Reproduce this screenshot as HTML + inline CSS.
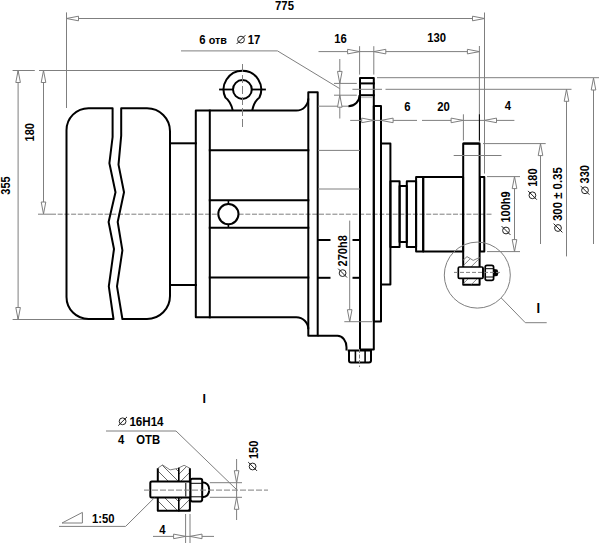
<!DOCTYPE html>
<html><head><meta charset="utf-8"><style>
html,body{margin:0;padding:0;background:#fff;}
svg{display:block;} path{stroke-linejoin:round;}
text{font-family:"Liberation Sans",sans-serif;fill:#000;}
</style></head><body>
<svg width="600" height="543" viewBox="0 0 600 543">
<line x1="66.5" y1="12.4" x2="66.5" y2="108" stroke="#7f7f7f" stroke-width="1" />
<line x1="484.5" y1="12.5" x2="484.5" y2="173.6" stroke="#7f7f7f" stroke-width="1" />
<line x1="66.5" y1="18.5" x2="484.5" y2="18.5" stroke="#7f7f7f" stroke-width="1" />
<polygon points="66.5,18.5 78.50,16.20 78.50,20.80" fill="#fff" stroke="#7f7f7f" stroke-width="1"/>
<polygon points="484.5,18.5 472.50,20.80 472.50,16.20" fill="#fff" stroke="#7f7f7f" stroke-width="1"/>
<text transform="translate(284.5 9.8) scale(1 1.08)" font-size="11.3" font-weight="bold" text-anchor="middle">775</text>
<line x1="12.6" y1="70.5" x2="34.8" y2="70.5" stroke="#7f7f7f" stroke-width="1" />
<line x1="39" y1="70.5" x2="238.5" y2="70.5" stroke="#7f7f7f" stroke-width="1" />
<line x1="18.1" y1="70.5" x2="18.1" y2="319.5" stroke="#7f7f7f" stroke-width="1" />
<polygon points="18.1,70.5 20.40,82.50 15.80,82.50" fill="#fff" stroke="#7f7f7f" stroke-width="1"/>
<polygon points="18.1,319.5 15.80,307.50 20.40,307.50" fill="#fff" stroke="#7f7f7f" stroke-width="1"/>
<line x1="43.5" y1="70.5" x2="43.5" y2="214" stroke="#7f7f7f" stroke-width="1" />
<polygon points="43.5,70.5 45.80,82.50 41.20,82.50" fill="#fff" stroke="#7f7f7f" stroke-width="1"/>
<polygon points="43.5,214 41.20,202.00 45.80,202.00" fill="#fff" stroke="#7f7f7f" stroke-width="1"/>
<line x1="12.6" y1="319.5" x2="88" y2="319.5" stroke="#7f7f7f" stroke-width="1" />
<text transform="translate(9.5 185.5) rotate(-90) scale(1 1.08)" font-size="11" font-weight="bold" text-anchor="middle">355</text>
<text transform="translate(34.3 132.3) rotate(-90) scale(1 1.08)" font-size="11" font-weight="bold" text-anchor="middle">180</text>
<line x1="38" y1="214.2" x2="51" y2="214.2" stroke="#7f7f7f" stroke-width="1" />
<line x1="51" y1="214.2" x2="491.5" y2="214.2" stroke="#7f7f7f" stroke-width="1" stroke-dasharray="5 1.7"/>
<path d="M112.6,108.2 L88.5,108.2 A22,22 0 0 0 66.5,130.2 L66.5,297 A22,22 0 0 0 88.5,319 L113.5,319 L108.8,286.3 L114,249 L108.6,222 L115.5,192.2 L109.4,163.2 L112.6,137 Z" stroke="#000" stroke-width="2" fill="none" />
<path d="M121.2,108.2 L147,108.2 A23,23 0 0 1 170,131.2 L170,296 A23,23 0 0 1 147,319 L122.4,319 L117,286.3 L122.4,250.4 L117.7,222 L124,192.2 L118.5,164.6 L121.2,135.6 Z" stroke="#000" stroke-width="2" fill="none" />
<line x1="170" y1="143.3" x2="195.8" y2="143.3" stroke="#000" stroke-width="2" stroke-linecap="square"/>
<line x1="170" y1="285" x2="195.8" y2="285" stroke="#000" stroke-width="2" stroke-linecap="square"/>
<path d="M308.3,98.6 A12,12 0 0 1 296.3,110.6 L195.8,110.6 L195.8,317.3 L296.3,317.3 A12,12 0 0 1 308.3,329.3" stroke="#000" stroke-width="2" fill="none" />
<line x1="209.8" y1="110.6" x2="209.8" y2="317.3" stroke="#000" stroke-width="2" stroke-linecap="square"/>
<line x1="209.8" y1="150.3" x2="308.3" y2="150.3" stroke="#000" stroke-width="2" stroke-linecap="square"/>
<line x1="209.8" y1="200.3" x2="308.3" y2="200.3" stroke="#000" stroke-width="2" stroke-linecap="square"/>
<line x1="209.8" y1="227.7" x2="308.3" y2="227.7" stroke="#000" stroke-width="2" stroke-linecap="square"/>
<line x1="209.8" y1="277.5" x2="308.3" y2="277.5" stroke="#000" stroke-width="2" stroke-linecap="square"/>
<circle cx="228.4" cy="214.1" r="10.1" fill="#fff" stroke="#000" stroke-width="2"/>
<line x1="228.4" y1="200.3" x2="228.4" y2="204" stroke="#000" stroke-width="1.6" />
<line x1="228.4" y1="224.2" x2="228.4" y2="227.7" stroke="#000" stroke-width="1.6" />
<path d="M232.8,110.6 Q230.8,101.5 225.39,97.5 A18.8,18.8 0 1 1 259.41,97.5 Q254,101.5 252.2,110.6" stroke="#000" stroke-width="2" fill="none" />
<circle cx="242.4" cy="89.5" r="9.4" fill="none" stroke="#000" stroke-width="2"/>
<line x1="220" y1="89.5" x2="233" y2="89.5" stroke="#000" stroke-width="1.8" stroke-linecap="square"/>
<line x1="251.8" y1="89.5" x2="265" y2="89.5" stroke="#000" stroke-width="1.8" stroke-linecap="square"/>
<line x1="242.5" y1="64" x2="242.5" y2="129" stroke="#7f7f7f" stroke-width="1" stroke-dasharray="8 3"/>
<path d="M308.3,335.7 L308.3,92.2 L317.7,92.2 L317.7,335.7 Z" stroke="#000" stroke-width="2" fill="none" stroke-linejoin="round"/>
<path d="M360,349.4 L360,78 L373.8,78 L373.8,349.4 Z" stroke="#000" stroke-width="2" fill="none" stroke-linejoin="round"/>
<line x1="360" y1="83.4" x2="373.8" y2="83.4" stroke="#000" stroke-width="2" stroke-linecap="square"/>
<line x1="360" y1="95.2" x2="373.8" y2="95.2" stroke="#000" stroke-width="2" stroke-linecap="square"/>
<line x1="361" y1="97.6" x2="373" y2="97.6" stroke="#bbb" stroke-width="1" />
<line x1="318" y1="106.2" x2="348.4" y2="106.2" stroke="#7f7f7f" stroke-width="1" />
<path d="M348.4,106.2 A11.2,11.2 0 0 0 359.6,95" stroke="#000" stroke-width="2" fill="none" />
<path d="M317.7,335.7 L337.5,335.7 A9,11.5 0 0 1 346.5,347.2 L346.5,350.5" stroke="#000" stroke-width="2" fill="none" />
<line x1="318" y1="150.4" x2="360" y2="150.4" stroke="#7f7f7f" stroke-width="1" />
<line x1="318" y1="189" x2="360" y2="189" stroke="#7f7f7f" stroke-width="1" />
<line x1="318.5" y1="240" x2="329.5" y2="240" stroke="#000" stroke-width="2" stroke-linecap="square"/>
<line x1="353.5" y1="240" x2="359" y2="240" stroke="#000" stroke-width="2" stroke-linecap="square"/>
<line x1="318.5" y1="277.8" x2="329.5" y2="277.8" stroke="#000" stroke-width="2" stroke-linecap="square"/>
<line x1="353.5" y1="277.8" x2="359" y2="277.8" stroke="#000" stroke-width="2" stroke-linecap="square"/>
<path d="M347.7,350.6 L372,350.6 M349,350.6 L349,360.6 Q349,362.6 351,362.6 L369,362.6 Q371,362.6 371,360.6 L371,350.6" stroke="#000" stroke-width="2" fill="none" />
<line x1="355.4" y1="351" x2="355.4" y2="362" stroke="#000" stroke-width="1.6" stroke-linecap="square"/>
<line x1="365.1" y1="351" x2="365.1" y2="362" stroke="#000" stroke-width="1.6" stroke-linecap="square"/>
<line x1="359.5" y1="349" x2="359.5" y2="367" stroke="#7f7f7f" stroke-width="1" stroke-dasharray="4 1.5"/>
<path d="M373.8,106 L381,106 L381,321.6 L373.8,321.6 Z" stroke="#000" stroke-width="2" fill="none" />
<path d="M381,143.6 L390.4,143.6 L390.4,284.6 L381,284.6 Z" stroke="#000" stroke-width="2" fill="none" />
<path d="M390.4,181.3 L399.6,181.3 L399.6,247 L390.4,247 Z" stroke="#000" stroke-width="2" fill="none" />
<path d="M399.6,185.9 L406.8,185.9 L406.8,242.1 L399.6,242.1 Z" stroke="#000" stroke-width="2" fill="none" />
<path d="M406.8,181.3 L416.1,181.3 L416.1,247 L406.8,247 Z" stroke="#000" stroke-width="2" fill="none" />
<path d="M416.1,176.9 L423.2,176.9 L423.2,251.6 L416.1,251.6 Z" stroke="#000" stroke-width="2" fill="none" />
<path d="M423.2,176.9 L463.1,176.9 L463.1,251.6 L423.2,251.6 Z" stroke="#000" stroke-width="2" fill="none" />
<path d="M480,176.9 L484.3,176.9 L484.3,251.6 L480,251.6 Z" stroke="#000" stroke-width="2" fill="none" />
<path d="M463.2,284.8 L463.2,143.6 L479.6,143.6 L479.6,284.8 Z" stroke="#000" stroke-width="2" fill="none" />
<line x1="318.5" y1="51.6" x2="479.4" y2="51.6" stroke="#7f7f7f" stroke-width="1" />
<polygon points="359.6,51.6 347.60,53.90 347.60,49.30" fill="#fff" stroke="#7f7f7f" stroke-width="1"/>
<polygon points="373.8,51.6 385.80,49.30 385.80,53.90" fill="#fff" stroke="#7f7f7f" stroke-width="1"/>
<polygon points="479.4,51.6 467.40,53.90 467.40,49.30" fill="#fff" stroke="#7f7f7f" stroke-width="1"/>
<line x1="359.6" y1="46.2" x2="359.6" y2="74.6" stroke="#7f7f7f" stroke-width="1" />
<line x1="373.8" y1="46.2" x2="373.8" y2="74.6" stroke="#7f7f7f" stroke-width="1" />
<line x1="479.4" y1="46" x2="479.4" y2="143" stroke="#7f7f7f" stroke-width="1" />
<text transform="translate(340.5 43.2) scale(1 1.08)" font-size="11.3" font-weight="bold" text-anchor="middle">16</text>
<text transform="translate(436.7 42.2) scale(1 1.08)" font-size="11.3" font-weight="bold" text-anchor="middle">130</text>
<line x1="181" y1="50.9" x2="277.5" y2="50.9" stroke="#7f7f7f" stroke-width="1" />
<line x1="277.5" y1="50.9" x2="339.7" y2="88.6" stroke="#7f7f7f" stroke-width="1" />
<text transform="translate(199.3 43.9) scale(1 1.08)" font-size="11.3" font-weight="bold" text-anchor="start">6 <tspan font-size="10.8">отв</tspan></text>
<g transform="translate(241 39.6) rotate(0)"><circle cx="0" cy="0" r="3.4" fill="none" stroke="#222" stroke-width="1.0"/><line x1="-4.4" y1="4.4" x2="4.4" y2="-4.4" stroke="#222" stroke-width="1.0"/></g>
<text transform="translate(247.8 43.9) scale(1 1.08)" font-size="11.3" font-weight="bold" text-anchor="start">17</text>
<line x1="339.8" y1="59" x2="339.8" y2="118.5" stroke="#7f7f7f" stroke-width="1" />
<polygon points="339.8,83.4 337.50,71.40 342.10,71.40" fill="#fff" stroke="#7f7f7f" stroke-width="1"/>
<polygon points="339.8,95.2 342.10,107.20 337.50,107.20" fill="#fff" stroke="#7f7f7f" stroke-width="1"/>
<line x1="334" y1="83.4" x2="356.8" y2="83.4" stroke="#7f7f7f" stroke-width="1" />
<line x1="334" y1="95.2" x2="356.8" y2="95.2" stroke="#7f7f7f" stroke-width="1" />
<line x1="352.4" y1="89.3" x2="382" y2="89.3" stroke="#7f7f7f" stroke-width="1" />
<line x1="385.5" y1="89.3" x2="571.5" y2="89.3" stroke="#7f7f7f" stroke-width="1" />
<line x1="377" y1="77.7" x2="599" y2="77.7" stroke="#7f7f7f" stroke-width="1" />
<line x1="593.5" y1="78" x2="593.5" y2="244" stroke="#7f7f7f" stroke-width="1" />
<polygon points="593.5,78 595.80,90.00 591.20,90.00" fill="#fff" stroke="#7f7f7f" stroke-width="1"/>
<line x1="566.5" y1="89.3" x2="566.5" y2="256.4" stroke="#7f7f7f" stroke-width="1" />
<polygon points="566.5,89.3 568.80,101.30 564.20,101.30" fill="#fff" stroke="#7f7f7f" stroke-width="1"/>
<g transform="translate(585 190.3) rotate(-90)"><circle cx="0" cy="0" r="3.4" fill="none" stroke="#222" stroke-width="1.0"/><line x1="-4.4" y1="4.4" x2="4.4" y2="-4.4" stroke="#222" stroke-width="1.0"/></g>
<text transform="translate(589.2 183.4) rotate(-90) scale(1 1.08)" font-size="11" font-weight="bold" text-anchor="start">330</text>
<g transform="translate(558 228) rotate(-90)"><circle cx="0" cy="0" r="3.4" fill="none" stroke="#222" stroke-width="1.0"/><line x1="-4.4" y1="4.4" x2="4.4" y2="-4.4" stroke="#222" stroke-width="1.0"/></g>
<text transform="translate(562.3 221) rotate(-90) scale(1 1.08)" font-size="11.4" font-weight="bold" text-anchor="start">300 ± 0.35</text>
<line x1="483" y1="143.6" x2="545.7" y2="143.6" stroke="#7f7f7f" stroke-width="1" />
<line x1="540.5" y1="143.6" x2="540.5" y2="244" stroke="#7f7f7f" stroke-width="1" />
<polygon points="540.5,143.6 542.80,155.60 538.20,155.60" fill="#fff" stroke="#7f7f7f" stroke-width="1"/>
<g transform="translate(532.4 195.3) rotate(-90)"><circle cx="0" cy="0" r="3.4" fill="none" stroke="#222" stroke-width="1.0"/><line x1="-4.4" y1="4.4" x2="4.4" y2="-4.4" stroke="#222" stroke-width="1.0"/></g>
<text transform="translate(536.7 186.8) rotate(-90) scale(1 1.08)" font-size="11" font-weight="bold" text-anchor="start">180</text>
<line x1="487" y1="176.6" x2="520" y2="176.6" stroke="#7f7f7f" stroke-width="1" />
<line x1="487" y1="251.6" x2="520" y2="251.6" stroke="#7f7f7f" stroke-width="1" />
<line x1="514.5" y1="176.6" x2="514.5" y2="251.6" stroke="#7f7f7f" stroke-width="1" />
<polygon points="514.5,176.6 516.80,188.60 512.20,188.60" fill="#fff" stroke="#7f7f7f" stroke-width="1"/>
<polygon points="514.5,251.6 512.20,239.60 516.80,239.60" fill="#fff" stroke="#7f7f7f" stroke-width="1"/>
<g transform="translate(506 230.5) rotate(-90)"><circle cx="0" cy="0" r="3.4" fill="none" stroke="#222" stroke-width="1.0"/><line x1="-4.4" y1="4.4" x2="4.4" y2="-4.4" stroke="#222" stroke-width="1.0"/></g>
<text transform="translate(510.3 222.5) rotate(-90) scale(1 1.08)" font-size="11" font-weight="bold" text-anchor="start">100h9</text>
<line x1="453.7" y1="155.5" x2="501.5" y2="155.5" stroke="#7f7f7f" stroke-width="1" />
<line x1="350.2" y1="120.4" x2="417" y2="120.4" stroke="#7f7f7f" stroke-width="1" />
<line x1="422" y1="120.4" x2="514.4" y2="120.4" stroke="#7f7f7f" stroke-width="1" />
<polygon points="373.7,120.4 361.70,122.70 361.70,118.10" fill="#fff" stroke="#7f7f7f" stroke-width="1"/>
<polygon points="381.1,120.4 393.10,118.10 393.10,122.70" fill="#fff" stroke="#7f7f7f" stroke-width="1"/>
<polygon points="463.1,120.4 451.10,122.70 451.10,118.10" fill="#fff" stroke="#7f7f7f" stroke-width="1"/>
<polygon points="484.5,120.4 496.50,118.10 496.50,122.70" fill="#fff" stroke="#7f7f7f" stroke-width="1"/>
<line x1="463.4" y1="114.3" x2="463.4" y2="140.5" stroke="#7f7f7f" stroke-width="1" />
<line x1="479.4" y1="114.3" x2="479.4" y2="140.5" stroke="#000" stroke-width="1" />
<text transform="translate(407.3 110.6) scale(1 1.08)" font-size="11.3" font-weight="bold" text-anchor="middle">6</text>
<text transform="translate(443.5 110.6) scale(1 1.08)" font-size="11.3" font-weight="bold" text-anchor="middle">20</text>
<text transform="translate(508 110) scale(1 1.08)" font-size="11.3" font-weight="bold" text-anchor="middle">4</text>
<line x1="349.7" y1="220.6" x2="349.7" y2="321.7" stroke="#7f7f7f" stroke-width="1" />
<polygon points="349.7,321.7 347.40,309.70 352.00,309.70" fill="#fff" stroke="#7f7f7f" stroke-width="1"/>
<line x1="344.3" y1="321.7" x2="372" y2="321.7" stroke="#7f7f7f" stroke-width="1" />
<g transform="translate(342.6 273.1) rotate(-90)"><circle cx="0" cy="0" r="3.4" fill="none" stroke="#222" stroke-width="1.0"/><line x1="-4.4" y1="4.4" x2="4.4" y2="-4.4" stroke="#222" stroke-width="1.0"/></g>
<text transform="translate(346.5 266.4) rotate(-90) scale(1 1.08)" font-size="11" font-weight="bold" text-anchor="start">270h8</text>
<circle cx="477.3" cy="275.1" r="33" fill="none" stroke="#7f7f7f" stroke-width="1"/>
<line x1="501.3" y1="298" x2="525.3" y2="322.7" stroke="#7f7f7f" stroke-width="1" />
<line x1="525.3" y1="322.7" x2="546.7" y2="322.7" stroke="#7f7f7f" stroke-width="1" />
<text transform="translate(538.2 313.3) scale(1 1.08)" font-size="13" font-weight="bold" text-anchor="middle">I</text>
<clipPath id="h1"><polygon points="463.3,260 467,256.6 473.2,260.4 479.5,257.5 479.5,284.8 463.3,284.8"/></clipPath>
<g clip-path="url(#h1)" stroke="#666" stroke-width="0.8">
<line x1="426.10" y1="284.8" x2="454.30" y2="256.6"/>
<line x1="435.10" y1="284.8" x2="463.30" y2="256.6"/>
<line x1="444.10" y1="284.8" x2="472.30" y2="256.6"/>
<line x1="453.10" y1="284.8" x2="481.30" y2="256.6"/>
<line x1="462.10" y1="284.8" x2="490.30" y2="256.6"/>
<line x1="471.10" y1="284.8" x2="499.30" y2="256.6"/>
<line x1="480.10" y1="284.8" x2="508.30" y2="256.6"/>
<line x1="489.10" y1="284.8" x2="517.30" y2="256.6"/>
<line x1="498.10" y1="284.8" x2="526.30" y2="256.6"/>
<line x1="507.10" y1="284.8" x2="535.30" y2="256.6"/>
<line x1="516.10" y1="284.8" x2="544.30" y2="256.6"/>
</g>
<path d="M463.3,260 L467,256.6 L473.2,260.4 L479.5,257.5" stroke="#7f7f7f" stroke-width="1" fill="none" />
<rect x="458.3" y="267" width="24.8" height="11.4" rx="1.2" fill="#fff" stroke="#000" stroke-width="1.7"/>
<line x1="482.6" y1="268" x2="482.6" y2="277.5" stroke="#000" stroke-width="1" />
<rect x="485.2" y="265.4" width="8.4" height="14.9" rx="1.8" fill="#fff" stroke="#000" stroke-width="1.7"/>
<line x1="485.2" y1="268.7" x2="493.6" y2="268.7" stroke="#000" stroke-width="1" />
<line x1="485.2" y1="277" x2="493.6" y2="277" stroke="#000" stroke-width="1" />
<path d="M493.6,269.6 L497,270 Q498.6,272.6 497,275.4 L493.6,276 Z" stroke="#000" stroke-width="1.2" fill="#000" />
<line x1="454" y1="272.4" x2="501" y2="272.4" stroke="#7f7f7f" stroke-width="1" stroke-dasharray="4 2"/>
<path d="M463.2,143.6 L479.6,143.6" stroke="#000" stroke-width="2" fill="none" />
<text transform="translate(204.3 403.2) scale(1 1.08)" font-size="12.5" font-weight="bold" text-anchor="middle">I</text>
<g transform="translate(122.6 421.3) rotate(0)"><circle cx="0" cy="0" r="3.4" fill="none" stroke="#222" stroke-width="1.0"/><line x1="-4.4" y1="4.4" x2="4.4" y2="-4.4" stroke="#222" stroke-width="1.0"/></g>
<text transform="translate(129.4 425.8) scale(1 1.08)" font-size="11.6" font-weight="bold" text-anchor="start">16H14</text>
<line x1="106" y1="431" x2="176" y2="431" stroke="#7f7f7f" stroke-width="1" />
<line x1="176" y1="431" x2="236.6" y2="489.6" stroke="#7f7f7f" stroke-width="1" />
<text transform="translate(118 444.4) scale(1 1.08)" font-size="11.3" font-weight="bold" text-anchor="start">4</text>
<text transform="translate(136.2 444.4) scale(1 1.08)" font-size="11.3" font-weight="bold" text-anchor="start">ОТВ</text>
<clipPath id="h2"><polygon points="157.8,468.2 162.5,464.9 170.1,469.9 177.7,468.4 178.8,468.4 178.8,510.8 157.8,510.8"/></clipPath>
<g clip-path="url(#h2)" stroke="#555" stroke-width="0.9">
<line x1="101.90" y1="464.9" x2="147.80" y2="510.8"/>
<line x1="111.90" y1="464.9" x2="157.80" y2="510.8"/>
<line x1="121.90" y1="464.9" x2="167.80" y2="510.8"/>
<line x1="131.90" y1="464.9" x2="177.80" y2="510.8"/>
<line x1="141.90" y1="464.9" x2="187.80" y2="510.8"/>
<line x1="151.90" y1="464.9" x2="197.80" y2="510.8"/>
<line x1="161.90" y1="464.9" x2="207.80" y2="510.8"/>
<line x1="171.90" y1="464.9" x2="217.80" y2="510.8"/>
<line x1="181.90" y1="464.9" x2="227.80" y2="510.8"/>
<line x1="191.90" y1="464.9" x2="237.80" y2="510.8"/>
<line x1="201.90" y1="464.9" x2="247.80" y2="510.8"/>
<line x1="211.90" y1="464.9" x2="257.80" y2="510.8"/>
<line x1="221.90" y1="464.9" x2="267.80" y2="510.8"/>
<line x1="231.90" y1="464.9" x2="277.80" y2="510.8"/>
</g>
<clipPath id="h3"><polygon points="178.8,468.4 184.1,465.3 189.9,468.2 189.9,510.8 178.8,510.8"/></clipPath>
<g clip-path="url(#h3)" stroke="#555" stroke-width="0.9">
<line x1="124.30" y1="510.8" x2="169.80" y2="465.3"/>
<line x1="133.30" y1="510.8" x2="178.80" y2="465.3"/>
<line x1="142.30" y1="510.8" x2="187.80" y2="465.3"/>
<line x1="151.30" y1="510.8" x2="196.80" y2="465.3"/>
<line x1="160.30" y1="510.8" x2="205.80" y2="465.3"/>
<line x1="169.30" y1="510.8" x2="214.80" y2="465.3"/>
<line x1="178.30" y1="510.8" x2="223.80" y2="465.3"/>
<line x1="187.30" y1="510.8" x2="232.80" y2="465.3"/>
<line x1="196.30" y1="510.8" x2="241.80" y2="465.3"/>
<line x1="205.30" y1="510.8" x2="250.80" y2="465.3"/>
<line x1="214.30" y1="510.8" x2="259.80" y2="465.3"/>
<line x1="223.30" y1="510.8" x2="268.80" y2="465.3"/>
<line x1="232.30" y1="510.8" x2="277.80" y2="465.3"/>
<line x1="241.30" y1="510.8" x2="286.80" y2="465.3"/>
</g>
<path d="M157.8,468.2 L162.5,464.9 L170.1,469.9 L177.7,468.4 L184.1,465.3 L189.9,468.2" stroke="#7f7f7f" stroke-width="1" fill="none" />
<path d="M157.8,468.2 L157.8,510.8 L189.9,510.8 L189.9,468.2" stroke="#000" stroke-width="2" fill="none" />
<line x1="178.8" y1="468.6" x2="178.8" y2="510.8" stroke="#000" stroke-width="1.6" stroke-linecap="square"/>
<rect x="150.3" y="481.6" width="40.2" height="16" rx="1.5" fill="#fff" stroke="#000" stroke-width="2"/>
<line x1="185.8" y1="483" x2="185.8" y2="496.5" stroke="#000" stroke-width="1" />
<rect x="190.5" y="478.7" width="11.7" height="22.7" rx="1.8" fill="#fff" stroke="#000" stroke-width="2"/>
<line x1="190.5" y1="483.3" x2="202.2" y2="483.3" stroke="#000" stroke-width="1" />
<line x1="190.5" y1="496.8" x2="202.2" y2="496.8" stroke="#000" stroke-width="1" />
<path d="M202.2,482.3 Q209.2,482.8 209.2,489.8 Q209.2,496.8 202.2,497.3" stroke="#000" stroke-width="2" fill="none" />
<line x1="144" y1="490.1" x2="268" y2="490.1" stroke="#7f7f7f" stroke-width="1" stroke-dasharray="6 2"/>
<line x1="209.8" y1="482.7" x2="242" y2="482.7" stroke="#7f7f7f" stroke-width="1" />
<line x1="209.8" y1="497.3" x2="242" y2="497.3" stroke="#7f7f7f" stroke-width="1" />
<line x1="236.6" y1="459" x2="236.6" y2="520" stroke="#7f7f7f" stroke-width="1" />
<polygon points="236.6,482.7 234.30,470.70 238.90,470.70" fill="#fff" stroke="#7f7f7f" stroke-width="1"/>
<polygon points="236.6,497.3 238.90,509.30 234.30,509.30" fill="#fff" stroke="#7f7f7f" stroke-width="1"/>
<g transform="translate(252.6 466.5) rotate(-90)"><circle cx="0" cy="0" r="3.4" fill="none" stroke="#222" stroke-width="1.0"/><line x1="-4.4" y1="4.4" x2="4.4" y2="-4.4" stroke="#222" stroke-width="1.0"/></g>
<text transform="translate(257.7 459) rotate(-90) scale(1 1.08)" font-size="11" font-weight="bold" text-anchor="start">150</text>
<line x1="59" y1="526.4" x2="125.6" y2="526.4" stroke="#7f7f7f" stroke-width="1" />
<line x1="125.6" y1="526.4" x2="154.3" y2="497.9" stroke="#7f7f7f" stroke-width="1" />
<polygon points="62,523 82.4,512.4 82.4,523" fill="none" stroke="#7f7f7f" stroke-width="1"/>
<text transform="translate(92 523.3) scale(1 1.08)" font-size="11.3" font-weight="bold" text-anchor="start">1:50</text>
<text transform="translate(162.5 534) scale(1 1.08)" font-size="11.3" font-weight="bold" text-anchor="middle">4</text>
<line x1="153" y1="536.4" x2="214" y2="536.4" stroke="#7f7f7f" stroke-width="1" />
<polygon points="185.6,536.4 173.60,538.70 173.60,534.10" fill="#fff" stroke="#7f7f7f" stroke-width="1"/>
<polygon points="190,536.4 202.00,534.10 202.00,538.70" fill="#fff" stroke="#7f7f7f" stroke-width="1"/>
<line x1="185.6" y1="514" x2="185.6" y2="543" stroke="#7f7f7f" stroke-width="1" />
<line x1="190" y1="514" x2="190" y2="543" stroke="#7f7f7f" stroke-width="1" />
</svg></body></html>
